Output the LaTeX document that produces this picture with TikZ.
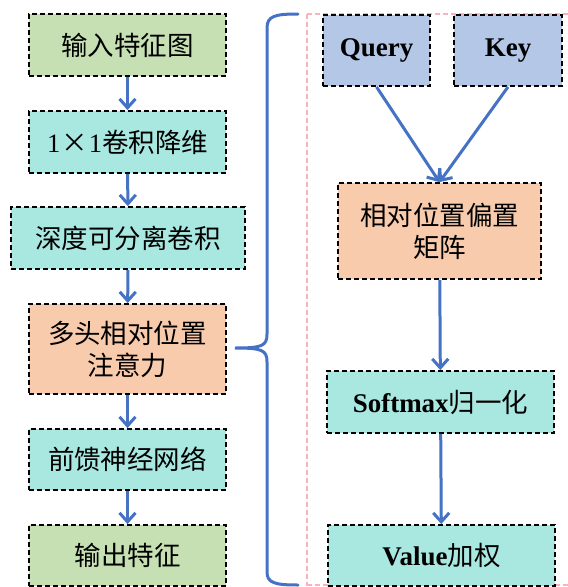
\documentclass[tikz,border=0pt]{standalone}
\usepackage{fontspec}
\setmainfont{Liberation Serif}
\newfontfamily\cjk{Noto Sans CJK SC}
\usetikzlibrary{arrows.meta}
\definecolor{lgreen}{HTML}{C6E0B4}
\definecolor{lcyan}{HTML}{A9E7E1}
\definecolor{lorange}{HTML}{F8CBAD}
\definecolor{lblue}{HTML}{B4C7E7}
\definecolor{arrblue}{HTML}{4472C4}
\definecolor{pinkl}{HTML}{F7B3C0}
\tikzset{
  boxbase/.style={draw=black, line width=1.8pt, dash pattern=on 5pt off 3pt, inner sep=0pt, align=center,
    font=\fontsize{26.5}{32}\selectfont\cjk},
  gbox/.style={boxbase, fill=lgreen},
  cbox/.style={boxbase, fill=lcyan},
  obox/.style={boxbase, fill=lorange},
  bbox/.style={boxbase, fill=lblue},
  latb/.style={font=\fontsize{27}{32}\selectfont\rmfamily\bfseries},
  flow/.style={draw=arrblue, line width=3pt, -{Straight Barb[length=9pt,width=16pt,line width=3pt]}},
}
\begin{document}
\begin{tikzpicture}[x=1pt,y=-1pt]
\useasboundingbox (0,0) rectangle (568,587);
% pink dashed frame
\draw[pinkl, line width=1.3pt, dash pattern=on 5pt off 3pt] (307,14) -- (575,14);
\draw[pinkl, line width=1.3pt, dash pattern=on 5pt off 3pt] (307,14) -- (307,586);
\draw[pinkl, line width=1.3pt, dash pattern=on 5pt off 3pt] (307,585) -- (575,585);
% left column
\node[gbox, minimum width=197pt, minimum height=62pt] (in) at (127.5,45) {输入特征图};
\node[cbox, minimum width=197pt, minimum height=62pt] (c1) at (127.5,142) {{\rmfamily 1}\hspace{1pt}×\hspace{1pt}{\rmfamily 1}卷积降维};
\node[cbox, minimum width=234pt, minimum height=62pt] (dw) at (128,238) {深度可分离卷积};
\node[obox, minimum width=197pt, minimum height=90pt] (mh) at (127.5,349) {多头相对位置\\注意力};
\node[cbox, minimum width=197pt, minimum height=61pt] (ff) at (127.5,459.5) {前馈神经网络};
\node[gbox, minimum width=197pt, minimum height=61pt] (out) at (127.5,555.5) {输出特征};
\draw[flow] (in) -- (c1);
\draw[flow] (c1) -- (dw);
\draw[flow] (dw) -- (mh);
\draw[flow] (mh) -- (ff);
\draw[flow] (ff) -- (out);
% right column
\node[bbox, minimum width=107pt, minimum height=71pt, latb] (q) at (376.5,50.5) {Query};
\node[bbox, minimum width=108pt, minimum height=71pt, latb] (k) at (508,50.5) {Key};
\node[obox, minimum width=203pt, minimum height=96pt] (m) at (439.5,231) {相对位置偏置\\矩阵};
\node[cbox, minimum width=227pt, minimum height=62pt] (s) at (440.5,402) {{\fontsize{27}{32}\selectfont\rmfamily\bfseries Softmax}归一化};
\node[cbox, minimum width=227pt, minimum height=61pt] (v) at (441.5,555.5) {{\fontsize{27}{32}\selectfont\rmfamily\bfseries Value}加权};
\draw[flow] (q.south) -- (m.north);
\draw[flow] (k.south) -- (m.north);
\draw[flow] (m) -- (s);
\draw[flow] (s) -- (v);
% brace
\coordinate (bt) at (298,14);
\coordinate (bb) at (298,585);
\coordinate (bc) at (235,348);
\draw[arrblue, line width=3pt, line cap=round]
  (bt) .. controls (275,14) and (267,16) .. (267,28)
  -- (267,334) .. controls (267,346) and (262,348) .. (bc)
  .. controls (262,348) and (267,350) .. (267,362)
  -- (267,572) .. controls (267,583) and (275,585) .. (bb);
\end{tikzpicture}
\end{document}
